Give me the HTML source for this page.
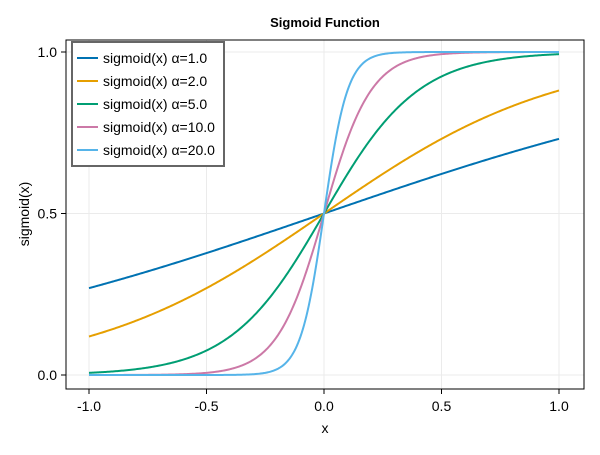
<!DOCTYPE html>
<html><head><meta charset="utf-8"><style>
body{margin:0;background:#fff}
text{font-family:"Liberation Sans",sans-serif}
</style></head><body>
<svg id="chart" width="600" height="450">
<rect width="600" height="450" fill="#fff"/>
<g id="grid"></g>
<g id="curves"></g>
<rect x="66" y="40" width="518" height="349" fill="none" stroke="#000" stroke-width="1"/>
<g id="ticks"></g>
<text x="325" y="27" text-anchor="middle" font-size="13" font-weight="bold">Sigmoid Function</text>
<text x="325" y="433" text-anchor="middle" font-size="14">x</text>
<text transform="translate(29,214) rotate(-90)" text-anchor="middle" font-size="14">sigmoid(x)</text>
<g id="legend"></g>
</svg>
<script>
const alphas=[1.0,2.0,5.0,10.0,20.0];
const colors=["#0072b2","#e69f00","#009e73","#cc79a7","#56b4e9"];
const xTicks=[-1.0,-0.5,0.0,0.5,1.0];
const xTickLabels=["-1.0","-0.5","0.0","0.5","1.0"];
const yTicks=[0.0,0.5,1.0];
const yTickLabels=["0.0","0.5","1.0"];
const NS="http://www.w3.org/2000/svg";
const sx=v=>324+v*235, sy=v=>375-v*323;
function mk(t,a,p){const e=document.createElementNS(NS,t);for(const k in a)e.setAttribute(k,a[k]);p.appendChild(e);return e;}
const grid=document.getElementById('grid'),ticks=document.getElementById('ticks');
xTicks.forEach((v,i)=>{
  const g=mk('line',{x1:sx(v),x2:sx(v),y1:40,y2:389,stroke:'#ebebeb'},grid);
  
  
  const t=mk('line',{x1:sx(v),x2:sx(v),y1:389,y2:394,stroke:'#000'},ticks);
  
  
  const l=mk('text',{x:sx(v),y:411,'text-anchor':'middle','font-size':14},ticks);
  l.textContent=xTickLabels[i];
  
  
});
yTicks.forEach((v,i)=>{
  const g=mk('line',{x1:66,x2:584,y1:sy(v),y2:sy(v),stroke:'#ebebeb'},grid);
  
  
  const t=mk('line',{x1:61,x2:66,y1:sy(v),y2:sy(v),stroke:'#000'},ticks);
  
  
  const l=mk('text',{x:57,y:sy(v)+5,'text-anchor':'end','font-size':14},ticks);
  l.textContent=yTickLabels[i];
  
  
});
const curves=document.getElementById('curves');
alphas.forEach((a,i)=>{
  let d='';
  for(let k=0;k<=400;k++){const x=-1+2*k/400;const y=1/(1+Math.exp(-a*x));d+=(k?'L':'M')+sx(x).toFixed(2)+','+sy(y).toFixed(2);}
  const p=mk('path',{d:d,fill:'none',stroke:colors[i],'stroke-width':2},curves);
  
  
});
const lg=document.getElementById('legend');
const box=mk('rect',{x:72,y:42,width:152,height:124,fill:'#fff',stroke:'#666','stroke-width':2},lg);


alphas.forEach((a,i)=>{
  const y=58+i*23;
  const ln=mk('line',{x1:77,x2:98,y1:y,y2:y,stroke:colors[i],'stroke-width':2},lg);
  
  
  const t=mk('text',{x:103,y:y+5,'font-size':14},lg);
  t.textContent='sigmoid(x) α='+a.toFixed(1);
  
  
});
</script>
</body></html>
